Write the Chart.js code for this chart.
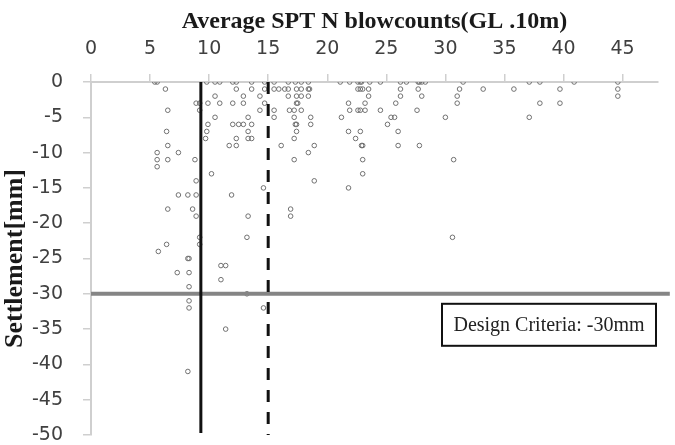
<!DOCTYPE html>
<html>
<head>
<meta charset="utf-8">
<script src="https://cdn.jsdelivr.net/npm/chart.js@4.4.1/dist/chart.umd.min.js"></script>
<style>
  body { margin: 0; background: #fff; }
  canvas { display: block; }
</style>
</head>
<body>
<canvas id="sptChart" width="675" height="445"></canvas>
<script>
// Average SPT N value (x) and measured settlement in mm (y), one pair per site
var nValues = [
  5.4, 5.6, 9.8, 10.5, 10.9, 12.0, 12.3, 13.6, 14.7, 15.5, 16.7, 17.3, 17.8, 18.4, 21.1, 21.9,
  22.6, 22.8, 22.9, 23.6, 24.5, 26.2, 26.7, 27.7, 27.8, 28.0, 28.3, 31.5, 37.1, 38.0, 40.9, 44.6,
  6.3, 12.3, 13.6, 14.7, 15.5, 15.9, 16.4, 16.7, 17.4, 17.8, 18.4, 18.5, 22.6, 22.8, 23.0, 23.5,
  26.2, 27.7, 31.2, 33.2, 35.8, 39.7, 44.6,
  10.5, 12.9, 14.3, 16.7, 17.4, 17.8, 18.4, 23.5, 26.2, 28.0, 31.0, 44.6,
  8.9, 9.2, 9.9, 10.9, 12.0, 12.9, 14.7, 17.4, 17.5, 21.8, 23.2, 25.8, 31.0, 38.0, 39.7,
  6.5, 9.2, 14.3, 15.5, 16.8, 17.2, 17.8, 21.9, 22.6, 22.8, 23.2, 24.5, 27.6,
  10.5, 13.3, 15.5, 17.2, 18.6, 21.2, 25.4, 25.7, 30.0, 37.1,
  9.9, 12.0, 12.5, 12.9, 13.6, 17.3, 17.4, 18.6, 25.1,
  6.4, 9.8, 13.3, 17.4, 21.8, 22.8, 26.0,
  9.7, 12.3, 13.3, 13.6, 17.2, 22.4,
  6.5, 11.7, 12.3, 16.1, 18.9, 22.9, 23.0, 26.0, 27.8,
  5.6, 7.4, 18.4,
  5.6, 6.5, 8.8, 17.2, 23.0, 30.7,
  5.6,
  10.2, 23.0,
  8.9, 18.9,
  14.6, 21.8,
  7.4, 8.2, 8.9, 11.9,
  6.5, 8.6, 16.9,
  8.9, 13.3, 16.9,
  9.2, 13.2, 30.6,
  6.4, 9.2,
  5.7,
  8.2, 8.3,
  11.0, 11.4,
  7.3, 8.3,
  11.0,
  8.3,
  13.2,
  8.3,
  8.3, 14.6,
  11.4,
  8.2
];
var settlementValues = [
  0, 0, 0, 0, 0, 0, 0, 0, 0, 0, 0, 0, 0, 0, 0, 0,
  0, 0, 0, 0, 0, 0, 0, 0, 0, 0, 0, 0, 0, 0, 0, 0,
  -1, -1, -1, -1, -1, -1, -1, -1, -1, -1, -1, -1, -1, -1, -1, -1,
  -1, -1, -1, -1, -1, -1, -1,
  -2, -2, -2, -2, -2, -2, -2, -2, -2, -2, -2, -2,
  -3, -3, -3, -3, -3, -3, -3, -3, -3, -3, -3, -3, -3, -3, -3,
  -4, -4, -4, -4, -4, -4, -4, -4, -4, -4, -4, -4, -4,
  -5, -5, -5, -5, -5, -5, -5, -5, -5, -5,
  -6, -6, -6, -6, -6, -6, -6, -6, -6,
  -7, -7, -7, -7, -7, -7, -7,
  -8, -8, -8, -8, -8, -8,
  -9, -9, -9, -9, -9, -9, -9, -9, -9,
  -10, -10, -10,
  -11, -11, -11, -11, -11, -11,
  -12,
  -13, -13,
  -14, -14,
  -15, -15,
  -16, -16, -16, -16,
  -18, -18, -18,
  -19, -19, -19,
  -22, -22, -22,
  -23, -23,
  -24,
  -25, -25,
  -26, -26,
  -27, -27,
  -28,
  -29,
  -30,
  -31,
  -32, -32,
  -35,
  -41
];

var xTicks = [0, 5, 10, 15, 20, 25, 30, 35, 40, 45];
var yTicks = [0, -5, -10, -15, -20, -25, -30, -35, -40, -45, -50];

var designCriteria = -30;   // mm
var nLineSolid = 9.3;
var nLineDashed = 15;

var points = nValues.map(function (n, i) {
    return { x: n, y: settlementValues[i] };
});

var tickFont = { family: 'DejaVu Sans', size: 19 };

var criteriaBox = {
    id: 'criteriaBox',
    afterDraw: function (chart) {
        var ctx = chart.ctx;
        var area = chart.chartArea;
        var yPix = chart.scales.y.getPixelForValue(designCriteria);
        var w = 214, h = 42;
        var left = area.right - w - 2;
        var top = yPix + 10;
        ctx.save();
        ctx.fillStyle = '#fff';
        ctx.fillRect(left, top, w, h);
        ctx.lineWidth = 2;
        ctx.strokeStyle = '#111';
        ctx.strokeRect(left, top, w, h);
        ctx.fillStyle = '#222';
        ctx.font = '20px "Liberation Serif"';
        ctx.textAlign = 'center';
        ctx.textBaseline = 'middle';
        ctx.fillText('Design Criteria: ' + designCriteria + 'mm', left + w / 2, top + h / 2 + 1);
        ctx.restore();
    }
};

var ctx = document.getElementById('sptChart').getContext('2d');
var sptChart = new Chart(ctx, {
    type: 'scatter',
    data: {
        datasets: [{
            label: 'Sites',
            data: points,
            pointRadius: 2.3,
            pointBorderWidth: 1,
            borderColor: '#707070',
            backgroundColor: 'rgba(255,255,255,0)',
            order: 2
        }, {
            type: 'line',
            label: 'Design criteria',
            data: [{ x: 0, y: designCriteria }, { x: 49, y: designCriteria }],
            borderColor: '#858585',
            borderWidth: 4,
            pointRadius: 0,
            clip: 20,
            order: 1
        }, {
            type: 'line',
            label: 'N solid',
            data: [{ x: nLineSolid, y: 0 }, { x: nLineSolid, y: -49.7 }],
            borderColor: '#111',
            borderWidth: 3,
            pointRadius: 0,
            order: 0
        }, {
            type: 'line',
            label: 'N dashed',
            data: [{ x: nLineDashed, y: 0 }, { x: nLineDashed, y: -50 }],
            borderColor: '#111',
            borderWidth: 3,
            borderDash: [12, 10],
            pointRadius: 0,
            order: 0
        }]
    },
    options: {
        responsive: false,
        animation: false,
        devicePixelRatio: 1,
        layout: { padding: { left: 0, right: 17, top: 0, bottom: 10 } },
        plugins: {
            legend: { display: false },
            tooltip: { enabled: false }
        },
        scales: {
            x: {
                type: 'linear',
                position: 'top',
                min: 0,
                max: 48,
                afterBuildTicks: function (scale) {
                    scale.ticks = xTicks.map(function (v) { return { value: v }; });
                },
                afterFit: function (scale) { scale.height = 82; },
                ticks: { font: tickFont, color: '#404040', padding: 14, maxRotation: 0 },
                grid: { drawOnChartArea: false, tickLength: 8, color: '#cfcfcf', lineWidth: 1.5 },
                border: { color: '#cfcfcf', width: 2 },
                title: {
                    display: true,
                    text: 'Average SPT N blowcounts(GL .10m)',
                    font: { family: 'Liberation Serif', size: 24, weight: 'bold' },
                    color: '#1a1a1a',
                    padding: { top: 7, bottom: 0 }
                }
            },
            y: {
                type: 'linear',
                min: -50,
                max: 0,
                afterBuildTicks: function (scale) {
                    scale.ticks = yTicks.map(function (v) { return { value: v }; });
                },
                afterFit: function (scale) {
                    scale.width = 91;
                    scale.paddingTop = 0;
                    scale.paddingBottom = 0;
                },
                ticks: { font: tickFont, color: '#404040', padding: 20 },
                grid: { drawOnChartArea: false, tickLength: 8, color: '#cfcfcf', lineWidth: 1.5 },
                border: { color: '#cfcfcf', width: 2 },
                title: {
                    display: true,
                    text: 'Settlement[mm]',
                    font: { family: 'Liberation Serif', size: 26, weight: 'bold' },
                    color: '#1a1a1a',
                    padding: { top: 0, bottom: 0 }
                }
            }
        }
    },
    plugins: [criteriaBox]
});
</script>
</body>
</html>
